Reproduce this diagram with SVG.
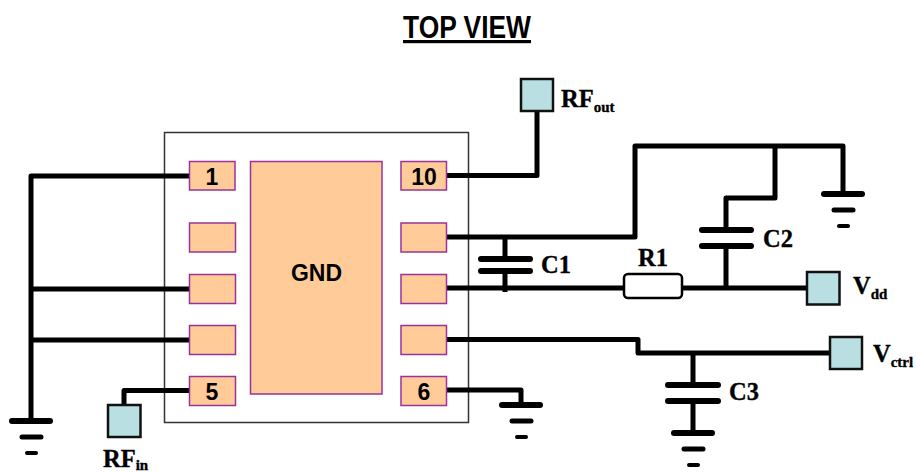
<svg xmlns="http://www.w3.org/2000/svg" width="916" height="472" viewBox="0 0 916 472">
<style>
.pkg{fill:#fff;stroke:#333;stroke-width:1.5}
.pin{fill:#fc9;stroke:#939;stroke-width:1.5}
.pad{fill:#b9dfe2;stroke:#111;stroke-width:2.5}
.w{fill:none;stroke:#000;stroke-width:5;stroke-linejoin:round;stroke-linecap:butt}
.p{fill:none;stroke:#000;stroke-width:6;stroke-linecap:round}
.p2{fill:none;stroke:#000;stroke-width:5;stroke-linecap:round}
.p3{fill:none;stroke:#000;stroke-width:4;stroke-linecap:round}
.s{font-family:"Liberation Sans",Arial,sans-serif;font-weight:700;fill:#000}
.t{font-family:"Liberation Serif","Times New Roman",serif;font-weight:700;fill:#000;stroke:#000;stroke-width:.35}
.n{font-size:23px;text-anchor:middle}
.l{font-size:24.500px}
.u{font-size:15px}
.res{fill:#fff;stroke:#000;stroke-width:2.5}
</style>
<rect width="916" height="472" fill="#fff"/>
<g id="title"><text class="s" x="467" y="38" font-size="32" text-anchor="middle" text-decoration="underline" textLength="128" lengthAdjust="spacingAndGlyphs">TOP VIEW</text></g>
<g id="package"><rect class="pkg" x="164.500" y="132.500" width="304" height="290"/></g>
<g id="connectors">
<path class="w" d="M190 176H31V421M190 289H31M190 340H31"/>
<path class="w" d="M190 390.500H124V406"/>
<path class="w" d="M447 175.500H537V110"/>
<path class="w" d="M447 237H635V146H843V194"/>
<path class="w" d="M775 146V198H726V230"/>
<path class="w" d="M726 246V288"/>
<path class="w" d="M447 288H624M682 288H808"/>
<path class="w" d="M505 237V259M505 271V292"/>
<path class="w" d="M447 339.500H638V353H831"/>
<path class="w" d="M693 351V384M693 400V433"/>
<path class="w" d="M447 390H521V405"/>
</g>
<g id="pin1"><rect class="pin" x="189.500" y="161.500" width="45.500" height="28.500"/><text class="s n" x="212" y="185">1</text></g>
<g id="pin2"><rect class="pin" x="189.500" y="223" width="46" height="29"/></g>
<g id="pin3"><rect class="pin" x="189.500" y="274.500" width="46" height="29"/></g>
<g id="pin4"><rect class="pin" x="189.500" y="325.500" width="46" height="29"/></g>
<g id="pin5"><rect class="pin" x="189.500" y="376.500" width="46" height="29"/><text class="s n" x="212" y="400">5</text></g>
<g id="pin10"><rect class="pin" x="401" y="161.500" width="45.500" height="28.500"/><text class="s n" x="424" y="185">10</text></g>
<g id="pin9"><rect class="pin" x="401" y="223" width="45.500" height="29"/></g>
<g id="pin8"><rect class="pin" x="401" y="274.500" width="45.500" height="29"/></g>
<g id="pin7"><rect class="pin" x="401" y="325.500" width="45.500" height="29"/></g>
<g id="pin6"><rect class="pin" x="401" y="376.500" width="45.500" height="29"/><text class="s n" x="424" y="400">6</text></g>
<g id="gnd-pad"><rect class="pin" x="250.500" y="161.500" width="131.500" height="232.500"/><text class="s n" x="316.500" y="281">GND</text></g>
<g id="rfin"><rect class="pad" x="108" y="405" width="32.500" height="32"/><text class="t l" x="103" y="467">RF<tspan class="u" dy="3">in</tspan></text></g>
<g id="rfout"><rect class="pad" x="521" y="79" width="32" height="32"/><text class="t l" x="561" y="107">RF<tspan class="u" dy="5">out</tspan></text></g>
<g id="vdd"><rect class="pad" x="807" y="272" width="32.500" height="32.500"/><text class="t l" x="853" y="294">V<tspan class="u" dy="5">dd</tspan></text></g>
<g id="vctrl"><rect class="pad" x="830" y="337" width="32" height="32"/><text class="t l" x="873" y="362">V<tspan class="u" dy="5">ctrl</tspan></text></g>
<g id="c1"><path class="p" d="M481 259H530M481 271H530"/><text class="t l" x="541" y="273">C1</text></g>
<g id="c2"><path class="p" d="M702 230H751M702 246H751"/><text class="t l" x="763" y="247">C2</text></g>
<g id="c3"><path class="p" d="M668 385H718M668 401H718"/><text class="t l" x="729" y="400">C3</text></g>
<g id="r1"><rect class="res" x="624" y="274" width="58" height="24" rx="4"/><text class="t l" x="638" y="266">R1</text></g>
<g id="gnd-left"><path class="p" d="M12 421H50"/><path class="p2" d="M22 437H41"/><path class="p3" d="M27 453H36"/></g>
<g id="gnd-top"><path class="p" d="M824 194H862"/><path class="p2" d="M834 210H853"/><path class="p3" d="M839 226H848"/></g>
<g id="gnd-pin6"><path class="p" d="M502 405H540"/><path class="p2" d="M512 421H531"/><path class="p3" d="M517 437H526"/></g>
<g id="gnd-c3"><path class="p" d="M674 433H712"/><path class="p2" d="M684 449H703"/><path class="p3" d="M689 465H698"/></g>
</svg>
